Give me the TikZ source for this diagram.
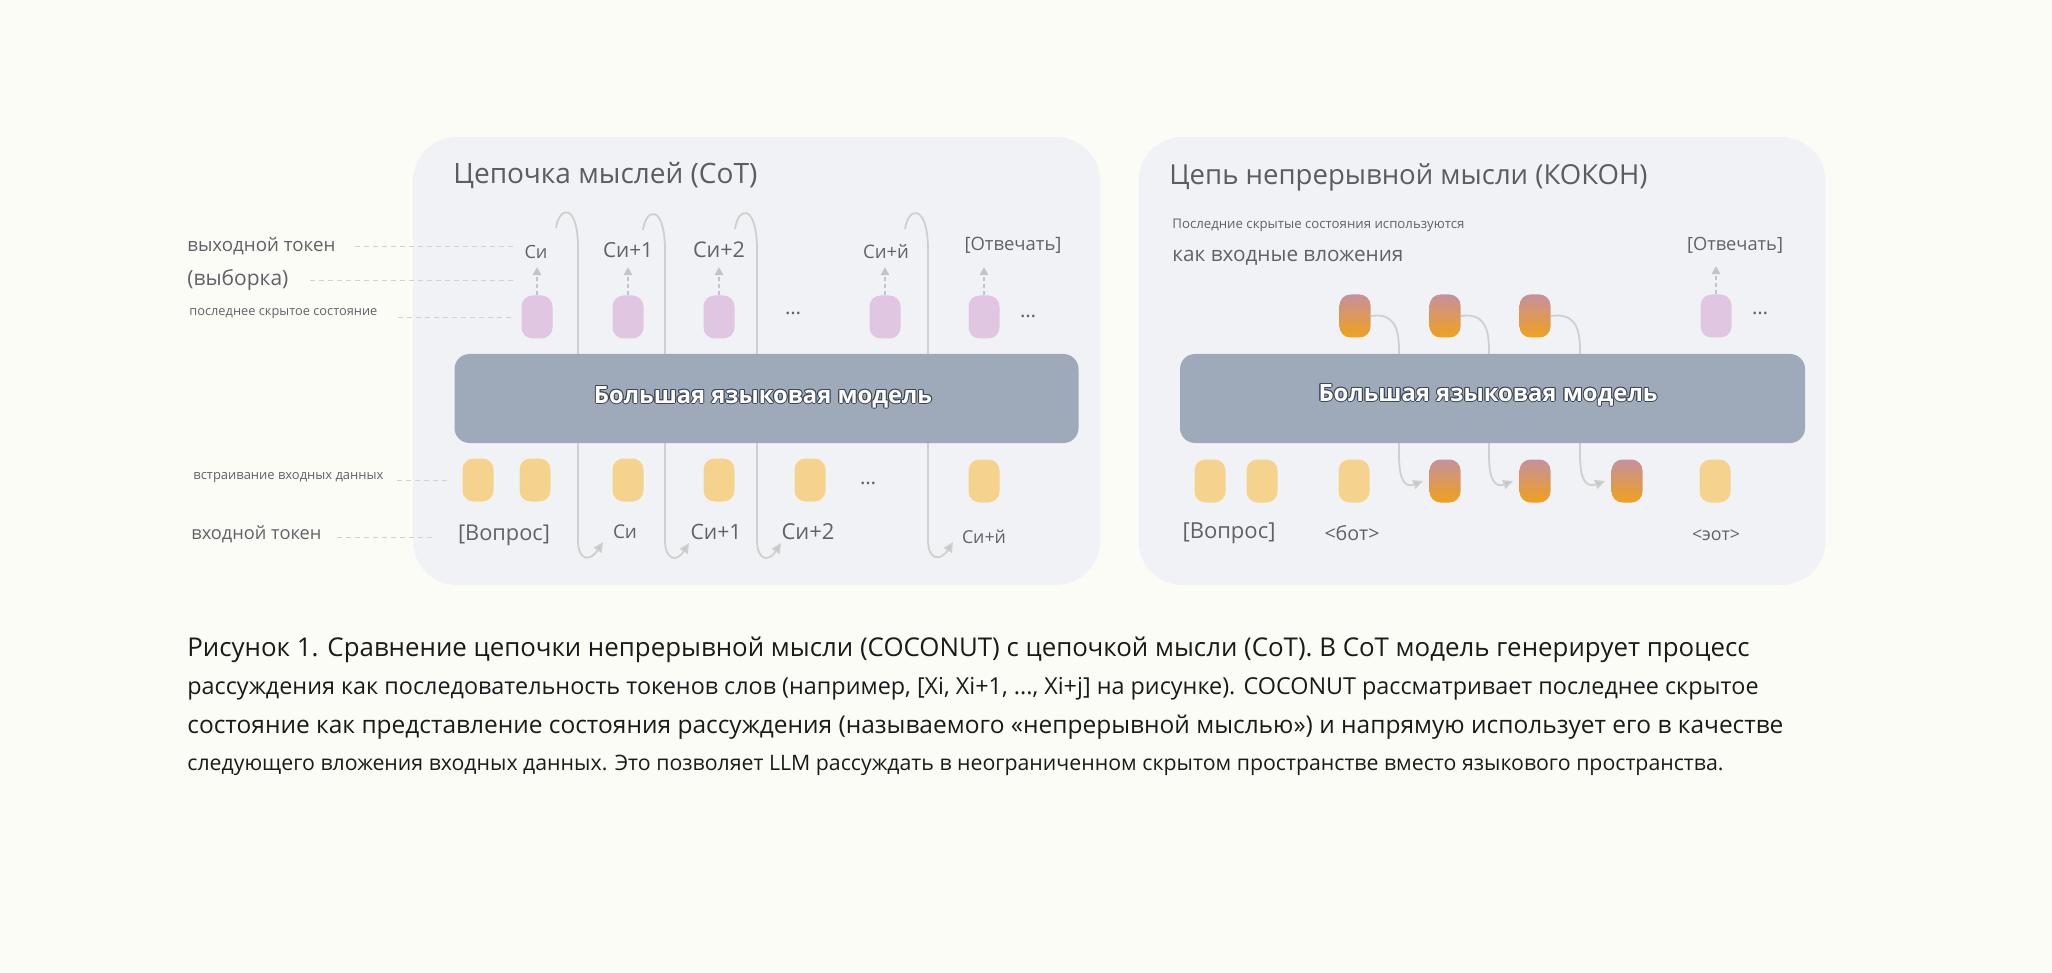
\documentclass[tikz,border=0pt]{standalone}
\usepackage{fontspec}
\setmainfont{Open Sans}
\usetikzlibrary{arrows.meta}
\definecolor{bgc}{HTML}{FCFCF7}
\definecolor{panelc}{HTML}{F1F2F6}
\definecolor{llmc}{HTML}{9EAAB9}
\definecolor{llmedge}{HTML}{3E4757}
\definecolor{pinkc}{HTML}{E1C6E1}
\definecolor{yellowc}{HTML}{F5D38D}
\definecolor{gtop}{HTML}{C5909F}
\definecolor{gbot}{HTML}{F0A11C}
\definecolor{txtc}{HTML}{5F6267}
\definecolor{capc}{HTML}{1A1A1A}
\definecolor{guidec}{HTML}{D2D2D2}
\definecolor{loopc}{HTML}{CFCFCF}
\definecolor{arrc}{HTML}{C4C4C4}
\newcommand{\fitw}[2]{\resizebox{#1}{!}{#2}}
\begin{document}
\begin{tikzpicture}[x=0.5pt,y=-0.5pt,
  panelbox/.style={fill=panelc, rounded corners=22pt, minimum width=343.5pt, minimum height=224pt, inner sep=0pt},
  llmbox/.style={fill=llmc, rounded corners=7.5pt, minimum width=312pt, minimum height=44.5pt, inner sep=0pt},
  tok/.style={minimum width=15.5pt, minimum height=21.5pt, rounded corners=5.5pt, inner sep=0pt},
  hid/.style={tok, fill=pinkc},
  emb/.style={tok, fill=yellowc},
  thought/.style={tok, top color=gtop, bottom color=gbot},
  lbl/.style={text=txtc, inner sep=0pt},
  llmtxt/.style={inner sep=0pt, font=\bfseries},
  guide/.style={draw=guidec, line width=0.5pt, dash pattern=on 2.5pt off 2pt},
  smallarr/.style={draw=arrc, line width=0.8pt, dash pattern=on 2pt off 1.5pt, -{Triangle[length=4pt,width=4.2pt]}},
  looparr/.style={draw=loopc, line width=0.9pt, -{Triangle[length=5pt,width=4.6pt,fill=arrc]}},
  caption/.style={text=capc, inner sep=0pt, anchor=base west}
]
\useasboundingbox (0,0) rectangle (2052,973);
\fill[bgc] (0,0) rectangle (2052,973);

% panels
\node[panelbox] (cot) at (756.5,361) {};
\node[panelbox] (coco) at (1482,361) {};

% titles
\node[lbl, anchor=base west, text=txtc!95!black] (t1) at (453,184) {\fitw{152pt}{Цепочка мыслей (CoT)}};
\node[lbl, anchor=base west, text=txtc!95!black] (t2) at (1169,185) {\fitw{239pt}{Цепь непрерывной мысли (КОКОН)}};

% left side labels
\node[lbl, anchor=west] (lout) at (187,246) {\fitw{74pt}{выходной токен}};
\node[lbl, anchor=west] (lsamp) at (187,280) {\fitw{50.5pt}{(выборка)}};
\node[lbl, anchor=west] (lhid) at (189,314) {\fitw{94pt}{последнее скрытое состояние}};
\node[lbl, anchor=west] (lemb) at (193,478) {\fitw{95pt}{встраивание входных данных}};
\node[lbl, anchor=west] (lin) at (191,534) {\fitw{65pt}{входной токен}};
\coordinate (g1a) at (355,247); \coordinate (g1b) at (513,247);
\coordinate (g2a) at (310,281); \coordinate (g2b) at (513,281);
\coordinate (g3a) at (398,318); \coordinate (g3b) at (513,318);
\coordinate (g4a) at (397,480); \coordinate (g4b) at (447,480);
\coordinate (g5a) at (337,537); \coordinate (g5b) at (433,537);
\draw[guide] (g1a) -- (g1b);
\draw[guide] (g2a) -- (g2b);
\draw[guide] (g3a) -- (g3b);
\draw[guide] (g4a) -- (g4b);
\draw[guide] (g5a) -- (g5b);

% ---------- left panel (CoT) ----------
% loops (behind the LLM box)
\coordinate (ls1) at (556,228); \coordinate (le1) at (603,542);
\coordinate (ls2) at (643,230); \coordinate (le2) at (689,543);
\coordinate (ls3) at (735,229); \coordinate (le3) at (781,543);
\coordinate (ls4) at (905,229); \coordinate (le4) at (953,542);
\draw[looparr] (ls1) .. controls (559,207) and (577,202) .. (578,245) -- (578,540) .. controls (578,561) and (590,562) .. (le1);
\draw[looparr] (ls2) .. controls (646,208) and (664,204) .. (665,248) -- (665,540) .. controls (665,561) and (677,562) .. (le2);
\draw[looparr] (ls3) .. controls (738,207) and (756,203) .. (757,247) -- (757,540) .. controls (757,561) and (769,562) .. (le3);
\draw[looparr] (ls4) .. controls (908,207) and (927,203) .. (928,247) -- (928,540) .. controls (928,561) and (941,561) .. (le4);

\node[llmbox] (llm1) at (766.5,398.5) {};
\foreach \a in {0,45,...,315}
  \node[llmtxt, text=llmedge] at ([shift={(\a:0.55pt)}]763,397) {\fitw{169pt}{Большая языковая модель}};
\node[llmtxt, text=white] (llmt1) at (763,397) {\fitw{169pt}{Большая языковая модель}};

% hidden states (top)
\node[hid] (h1) at (537,317) {};
\node[hid] (h2) at (628,317) {};
\node[hid] (h3) at (719,317) {};
\node[hid] (h4) at (885,317) {};
\node[hid] (h5) at (984,317) {};
\node[lbl] (d1) at (793,313) {\fitw{8pt}{…}};
\node[lbl] (d2) at (1028,316) {\fitw{8pt}{…}};
\foreach \n in {h1,h2,h3,h4,h5} \draw[smallarr] (\n.north) -- ++(0,-28);

% output tokens
\node[lbl] (o1) at (536,252) {\fitw{11.5pt}{Си}};
\node[lbl] (o2) at (628,250) {\fitw{25pt}{Си+1}};
\node[lbl] (o3) at (719,250) {\fitw{26pt}{Си+2}};
\node[lbl] (o4) at (886,252) {\fitw{23pt}{Си+й}};
\node[lbl] (o5) at (1013,245) {\fitw{48.5pt}{[Отвечать]}};

% input embeddings
\node[emb] (e1) at (478,480) {};
\node[emb] (e2) at (535,480) {};
\node[emb] (e3) at (628,480) {};
\node[emb] (e4) at (719,480) {};
\node[emb] (e5) at (810,480) {};
\node[emb] (e6) at (984,481) {};
\node[lbl] (d3) at (868,483) {\fitw{8pt}{…}};

% input tokens
\node[lbl] (i1) at (504,535) {\fitw{46pt}{[Вопрос]}};
\node[lbl] (i2) at (625,532) {\fitw{12pt}{Си}};
\node[lbl] (i3) at (716,532) {\fitw{25.5pt}{Си+1}};
\node[lbl] (i4) at (808,532) {\fitw{26.5pt}{Си+2}};
\node[lbl] (i5) at (984,537) {\fitw{22pt}{Си+й}};

% ---------- right panel (COCONUT) ----------
\node[lbl, anchor=west] (n1) at (1172,225) {\fitw{146pt}{Последние скрытые состояния используются}};
\node[lbl, anchor=west] (n2) at (1172,258) {\fitw{115.5pt}{как входные вложения}};

\node[thought] (c1) at (1355,316) {};
\node[thought] (c2) at (1445,316) {};
\node[thought] (c3) at (1535,316) {};
\node[hid] (c4) at (1716,316) {};
\node[lbl] (d4) at (1760,313) {\fitw{8pt}{…}};
\draw[smallarr] (c4.north) -- ++(0,-28);
\node[lbl] (ra) at (1735,245) {\fitw{48pt}{[Отвечать]}};

\node[emb] (f1) at (1210,481) {};
\node[emb] (f2) at (1262,481) {};
\node[emb] (f3) at (1354,481) {};
\node[thought] (f4) at (1445,481) {};
\node[thought] (f5) at (1535,481) {};
\node[thought] (f6) at (1627,481) {};
\node[emb] (f7) at (1715,481) {};

\draw[looparr] (c1.east) .. controls (1392,313) and (1399,325) .. (1399,350) -- (1399,455) .. controls (1399,480) and (1405,488) .. ([xshift=-3pt]f4.west);
\draw[looparr] (c2.east) .. controls (1482,313) and (1489,325) .. (1489,350) -- (1489,455) .. controls (1489,480) and (1495,488) .. ([xshift=-3pt]f5.west);
\draw[looparr] (c3.east) .. controls (1573,313) and (1580,325) .. (1580,350) -- (1580,455) .. controls (1580,480) and (1586,488) .. ([xshift=-3pt]f6.west);

\node[llmbox, minimum width=312.5pt] (llm2) at (1492.5,398.5) {};
\foreach \a in {0,45,...,315}
  \node[llmtxt, text=llmedge] at ([shift={(\a:0.55pt)}]1488,395) {\fitw{169.5pt}{Большая языковая модель}};
\node[llmtxt, text=white] (llmt2) at (1488,395) {\fitw{169.5pt}{Большая языковая модель}};

\node[lbl] (r1) at (1229,533) {\fitw{46.5pt}{[Вопрос]}};
\node[lbl] (r2) at (1352,533) {\fitw{27.5pt}{<бот>}};
\node[lbl] (r3) at (1716,535) {\fitw{24pt}{<эот>}};

% ---------- caption ----------
\node[caption] (cap1) at (187,656) {\fitw{781pt}{Рисунок 1. Сравнение цепочки непрерывной мысли (COCONUT) с цепочкой мысли (CoT). В CoT модель генерирует процесс}};
\node[caption] (cap2) at (187,694) {\fitw{785.5pt}{рассуждения как последовательность токенов слов (например, [Xi, Xi+1, ..., Xi+j] на рисунке). COCONUT рассматривает последнее скрытое}};
\node[caption] (cap3) at (187,733) {\fitw{798pt}{состояние как представление состояния рассуждения (называемого «непрерывной мыслью») и напрямую использует его в качестве}};
\node[caption] (cap4) at (187,770) {\fitw{768pt}{следующего вложения входных данных. Это позволяет LLM рассуждать в неограниченном скрытом пространстве вместо языкового пространства.}};
\end{tikzpicture}
\end{document}
